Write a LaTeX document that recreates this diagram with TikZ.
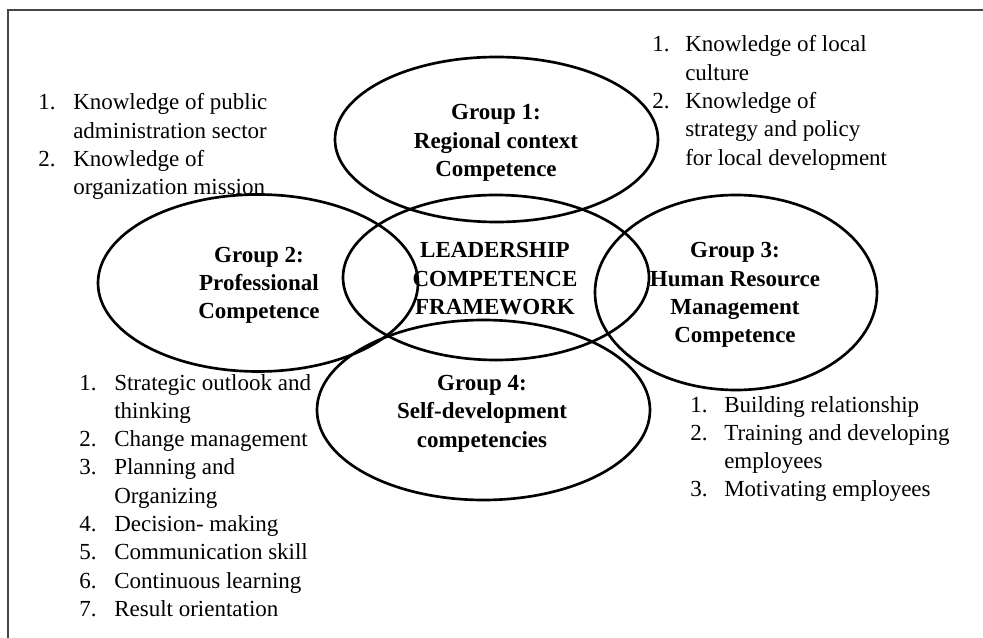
\documentclass[tikz,border=0pt]{standalone}
\usepackage{fontspec}
\setmainfont{Liberation Serif}
\usetikzlibrary{shapes.geometric}
\definecolor{framegray}{RGB}{70,70,70}
\newcommand{\li}[4]{\node[txt, anchor=base west] (#1) at (#2,#3) {#4};}
\newcommand{\gl}[4]{\node[gtxt, anchor=base] (#1) at (#2,#3) {#4};}
\begin{document}
\begin{tikzpicture}[x=0.75pt, y=-0.75pt,
  txt/.style={inner sep=0pt, font=\fontsize{17.25pt}{21pt}\selectfont},
  gtxt/.style={inner sep=0pt, font=\fontsize{17.25pt}{21pt}\selectfont\bfseries},
  oval/.style={draw=black, ellipse, line width=2pt, inner sep=0pt}]
\useasboundingbox (0,0) rectangle (983,638);
% frame
\coordinate (fb) at (8,638);
\coordinate (fc) at (8,10);
\coordinate (fr) at (983,10);
\draw[framegray, line width=0.9pt] (fb) -- (fc) -- (fr);
% ellipses
\node[oval, minimum width=242.25pt, minimum height=123.75pt] (g1) at (496.5,139.5) {};
\node[oval, minimum width=240pt, minimum height=132.75pt] (g2) at (258,283) {};
\node[oval, minimum width=229.5pt, minimum height=123.75pt] (gc) at (496,277.5) {};
\node[oval, minimum width=211.5pt, minimum height=146.25pt] (g3) at (736,292.5) {};
\node[oval, minimum width=249.75pt, minimum height=135pt] (g4) at (483.5,410) {};
% group labels
\gl{g1a}{496}{120}{Group 1:}
\gl{g1b}{496}{148.3}{Regional context}
\gl{g1c}{496}{176.6}{Competence}
\gl{g2a}{259}{263}{Group 2:}
\gl{g2b}{259}{291}{Professional}
\gl{g2c}{259}{319}{Competence}
\gl{gca}{495}{258}{LEADERSHIP}
\gl{gcb}{495}{286.5}{COMPETENCE}
\gl{gcc}{495}{315}{FRAMEWORK}
\gl{g3a}{735}{258}{Group 3:}
\gl{g3b}{735}{286.5}{Human Resource}
\gl{g3c}{735}{315}{Management}
\gl{g3d}{735}{343}{Competence}
\gl{g4a}{482}{390}{Group 4:}
\gl{g4b}{482}{418.5}{Self-development}
\gl{g4c}{482}{447}{competencies}
% top-left list
\li{a1n}{38}{110}{1.}
\li{a1}{73}{110}{Knowledge of public}
\li{a1x}{73}{138.3}{administration sector}
\li{a2n}{38}{166.6}{2.}
\li{a2}{73}{166.6}{Knowledge of}
\li{a2x}{73}{194.9}{organization mission}
% top-right list
\li{b1n}{652}{52}{1.}
\li{b1}{685}{52}{Knowledge of local}
\li{b1x}{685}{80.3}{culture}
\li{b2n}{652}{108.6}{2.}
\li{b2}{685}{108.6}{Knowledge of}
\li{b2x}{685}{136.9}{strategy and policy}
\li{b2y}{685}{165.2}{for local development}
% bottom-left list
\li{c1n}{79}{390}{1.}
\li{c1}{114}{390}{Strategic outlook and}
\li{c1x}{114}{418.3}{thinking}
\li{c2n}{79}{446.6}{2.}
\li{c2}{114}{446.6}{Change management}
\li{c3n}{79}{474.9}{3.}
\li{c3}{114}{474.9}{Planning and}
\li{c3x}{114}{503.2}{Organizing}
\li{c4n}{79}{531.5}{4.}
\li{c4}{114}{531.5}{Decision- making}
\li{c5n}{79}{559.8}{5.}
\li{c5}{114}{559.8}{Communication skill}
\li{c6n}{79}{588.1}{6.}
\li{c6}{114}{588.1}{Continuous learning}
\li{c7n}{79}{616.4}{7.}
\li{c7}{114}{616.4}{Result orientation}
% bottom-right list
\li{d1n}{690}{412}{1.}
\li{d1}{724}{412}{Building relationship}
\li{d2n}{690}{440.3}{2.}
\li{d2}{724}{440.3}{Training and developing}
\li{d2x}{724}{468.6}{employees}
\li{d3n}{690}{496.9}{3.}
\li{d3}{724}{496.9}{Motivating employees}
\end{tikzpicture}
\end{document}
